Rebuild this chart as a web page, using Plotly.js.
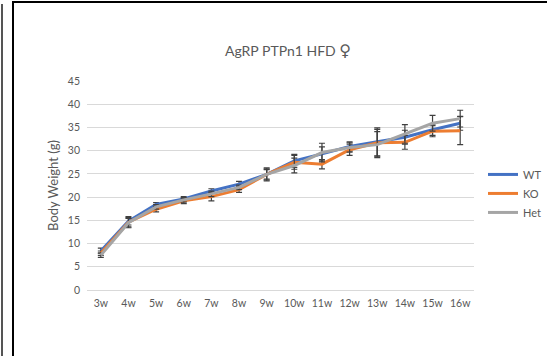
<!DOCTYPE html>
<html>
<head>
<meta charset="utf-8">
<script src="https://cdn.plot.ly/plotly-3.0.1.min.js"></script>
<style>
html,body{margin:0;padding:0;background:#fff;overflow:hidden;width:547px;height:356px;}
#chart{position:absolute;left:0;top:0;width:600px;height:356px;}
.b1{position:absolute;left:1px;top:4px;width:2px;height:360px;background:#555;}
.b2{position:absolute;left:12px;top:1px;width:1.5px;height:360px;background:#000;}
.b3{position:absolute;left:12px;top:1px;width:540px;height:1.5px;background:#000;}
</style>
</head>
<body>
<div id="chart"></div>
<div class="b1"></div><div class="b2"></div><div class="b3"></div>
<script>
var weeks = ["3w","4w","5w","6w","7w","8w","9w","10w","11w","12w","13w","14w","15w","16w"];
var seriesNames = ["WT","KO","Het"];
var wt  = [8.4, 14.8, 18.4, 19.6, 21.3, 22.8, 24.9, 27.8, 29.3, 30.9, 31.9, 32.9, 34.5, 35.9];
var ko  = [7.9, 14.6, 17.4, 19.2, 20.1, 21.6, 24.9, 27.5, 27.1, 30.2, 31.7, 31.8, 34.2, 34.3];
var het = [7.5, 14.5, 17.9, 19.4, 20.7, 22.1, 24.9, 26.8, 29.6, 30.7, 31.3, 33.6, 35.9, 36.9];
var wtErr  = [0.6, 0.8, 0.4, 0.5, 0.5, 0.6, 1.0, 1.4, 1.5, 1.0, 3.0, 1.5, 1.2, 1.5];
var koErr  = [0.5, 1.2, 0.6, 0.6, 0.9, 0.6, 1.2, 1.5, 1.0, 1.2, 2.9, 1.5, 1.2, 3.0];
var hetErr = [0.5, 0.9, 0.5, 0.5, 0.6, 0.5, 1.4, 1.6, 2.0, 1.0, 2.8, 2.0, 1.7, 1.8];
var colors = ["#4472C4","#ED7D31","#A5A5A5"];

var values = [wt, ko, het];
var errs = [wtErr, koErr, hetErr];
var traces = values.map(function(v, i){
  return {
    type: 'scatter', mode: 'lines', name: seriesNames[i],
    x: weeks, y: v,
    line: {color: colors[i], width: 3},
    error_y: {type: 'data', array: errs[i], visible: true, color: '#404040', thickness: 1.2, width: 3}
  };
});

var FONT = 'Lato, "Open Sans", sans-serif';
var layout = {
  width: 600, height: 356,
  margin: {l: 87, r: 126, t: 81, b: 66},
  paper_bgcolor: '#fff', plot_bgcolor: '#fff',
  font: {family: FONT, color: '#595959', size: 10},
  title: {text: 'AgRP PTPn1 HFD <span style="font-family:DejaVu Sans;font-size:16px">♀</span>',
          font: {size: 14, color: '#595959', family: FONT},
          x: 288/600, xref: 'container', xanchor: 'center', y: 1 - 51/356, yref: 'container', yanchor: 'middle'},
  xaxis: {type: 'category', range: [-0.5, 13.5], showgrid: false, zeroline: false, showline: false,
          ticks: '', tickfont: {size: 10.5, color: '#595959'}, ticklabelstandoff: 5, fixedrange: true},
  yaxis: {range: [0, 45], dtick: 5, showgrid: true, gridcolor: '#d9d9d9', gridwidth: 1,
          zeroline: true, zerolinecolor: '#d9d9d9', zerolinewidth: 1, showline: false, ticks: '',
          tickfont: {size: 10.5, color: '#595959'}, ticklabelstandoff: 6,
          title: {text: 'Body Weight (g)', font: {size: 13, color: '#595959'}, standoff: 6}},
  legend: {x: (483 - 87) / 387, xanchor: 'left', y: (290 - 193.3) / 209.3, yanchor: 'middle',
           font: {size: 11, color: '#595959'}, itemwidth: 30, tracegroupgap: 0, bgcolor: 'rgba(0,0,0,0)'},
  showlegend: true
};

Plotly.newPlot('chart', traces, layout, {displayModeBar: false, staticPlot: true});
</script>
</body>
</html>
